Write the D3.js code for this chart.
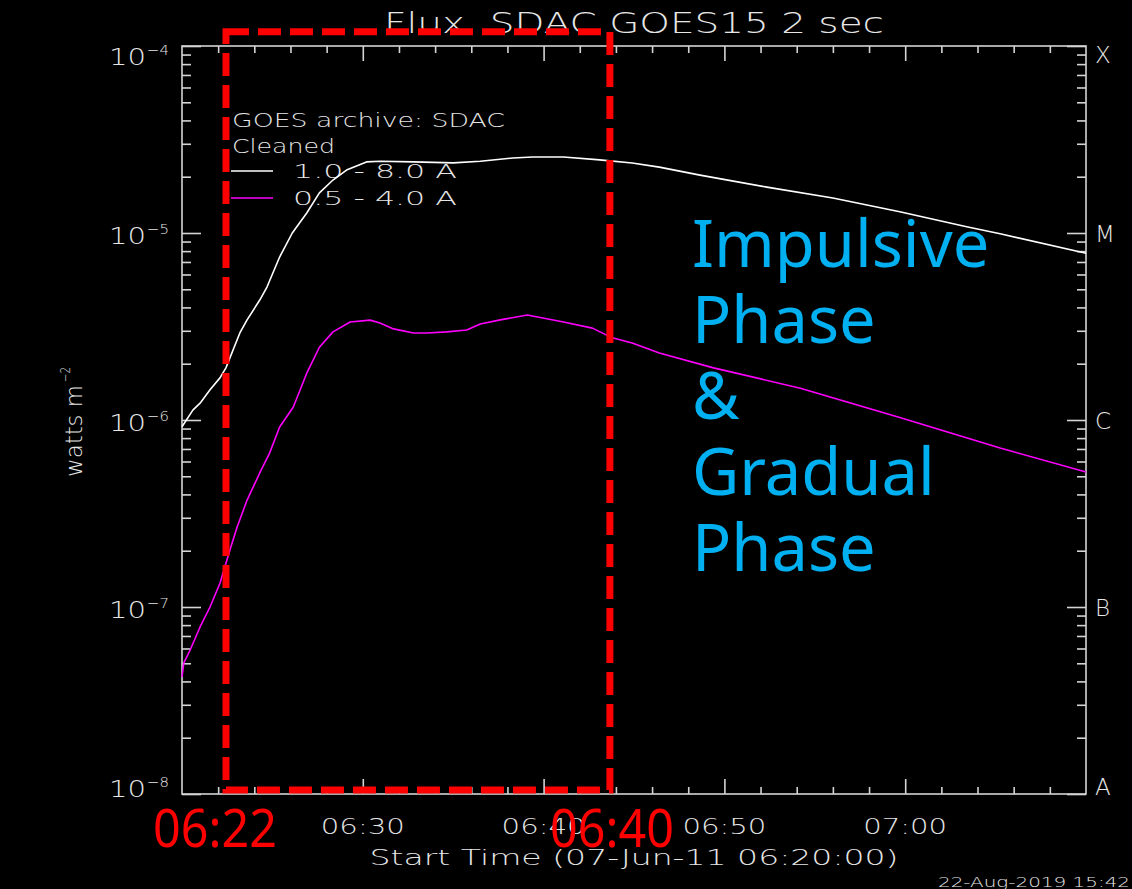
<!DOCTYPE html>
<html>
<head>
<meta charset="utf-8">
<script src="https://cdn.jsdelivr.net/npm/d3@7"></script>
<style>
  html, body { margin: 0; padding: 0; background: #000; }
  svg { display: block; }
</style>
</head>
<body>
<div id="chart"></div>
<script>
// GOES15 X-ray flux, 07-Jun-2011 flare, with phase annotations

// minutes after 06:20:00 and flux (W m^-2)
const longMin = [0, 0.6, 1.0, 1.55, 2.1, 2.43, 2.65, 3.2, 3.6, 4.3, 4.7, 5.4, 6.1, 6.9, 7.6, 8.35, 9.1,
  10.2, 10.95, 12.8, 15.0, 16.5, 18.3, 19.4, 21.1, 23.1, 24.9, 26.4, 28.65, 32.35, 36.0, 39.7, 43.4, 45.25, 50];
const longFlux = [9.2e-7, 1.13e-6, 1.23e-6, 1.45e-6, 1.68e-6, 1.9e-6, 2.15e-6, 2.92e-6, 3.43e-6, 4.38e-6,
  5.14e-6, 7.44e-6, 1.0e-5, 1.28e-5, 1.64e-5, 1.92e-5, 2.17e-5, 2.4e-5, 2.42e-5, 2.4e-5, 2.37e-5, 2.42e-5,
  2.52e-5, 2.55e-5, 2.55e-5, 2.46e-5, 2.37e-5, 2.25e-5, 2.04e-5, 1.76e-5, 1.54e-5, 1.3e-5, 1.08e-5, 9.9e-6, 7.8e-6];

const shortMin = [0, 0.1, 0.45, 1.0, 1.55, 2.1, 2.65, 3.05, 3.6, 4.3, 4.85, 5.4, 6.15, 6.9, 7.6, 8.35, 9.3,
  10.4, 10.95, 11.7, 12.8, 13.55, 14.65, 15.75, 16.5, 17.6, 19.1, 21.1, 22.7, 23.8, 24.9, 26.4, 29.4, 34.2,
  39.7, 45.25, 50];
const shortFlux = [4.23e-8, 5.02e-8, 5.89e-8, 7.82e-8, 1.0e-7, 1.34e-7, 2.02e-7, 2.68e-7, 3.73e-7, 5.21e-7,
  6.67e-7, 9.18e-7, 1.17e-6, 1.78e-6, 2.45e-6, 2.96e-6, 3.34e-6, 3.42e-6, 3.3e-6, 3.07e-6, 2.92e-6, 2.92e-6,
  2.96e-6, 3.03e-6, 3.26e-6, 3.43e-6, 3.64e-6, 3.34e-6, 3.1e-6, 2.75e-6, 2.58e-6, 2.28e-6, 1.9e-6, 1.48e-6,
  1.03e-6, 7.08e-7, 5.27e-7];

const startStr = "2011-06-07 06:20:00";
const endStr = "2011-06-07 07:10:00";
const decades = [1e-8, 1e-7, 1e-6, 1e-5, 1e-4];
const decadeExp = ["\u22128", "\u22127", "\u22126", "\u22125", "\u22124"];
const goesClass = ["A", "B", "C", "M", "X"];
const legendText = ["1.0 - 8.0 A", "0.5 - 4.0 A"];
const legendColor = ["#ffffff", "#ff00ff"];

// annotation box (time range and flux range) and labels
const boxTimes = ["2011-06-07 06:22:26", "2011-06-07 06:43:40"];
const boxFlux = [1.05e-8, 1.19e-4];
const boxLabels = ["06:22", "06:40"];
const phaseLines = ["Impulsive", "Phase", "&", "Gradual", "Phase"];

const width = 1132, height = 889;
const margin = { left: 182, right: 1086, top: 46, bottom: 794 };
const axisColor = "#d4d4d4";
const textColor = "#e6e6e6";
const vecFont = "'DejaVu Sans', 'Liberation Sans', sans-serif";

const parse = d3.timeParse("%Y-%m-%d %H:%M:%S");
const t0 = parse(startStr);
const toDate = m => new Date(t0.getTime() + m * 60000);

const svg = d3.select("#chart").append("svg")
  .attr("width", width)
  .attr("height", height)
  .style("background", "#000");

const x = d3.scaleTime().domain([t0, parse(endStr)]).range([margin.left, margin.right]);
const y = d3.scaleLog().domain([1e-8, 1e-4]).range([margin.bottom, margin.top]);

// labels at the two ends of the y range are pulled inside the frame
const endShift = (d, i) => (i === 0 ? -8 : i === decades.length - 1 ? 8 : 0);

// === frame ===
svg.append("rect")
  .attr("x", margin.left).attr("y", margin.top)
  .attr("width", margin.right - margin.left)
  .attr("height", margin.bottom - margin.top)
  .attr("fill", "none")
  .attr("stroke", axisColor)
  .attr("stroke-width", 1.6);

// === ticks ===
const majorT = x.ticks(d3.timeMinute.every(10)).filter(d => d > x.domain()[0] && d < x.domain()[1]);
const minorT = x.ticks(d3.timeMinute.every(2))
  .filter(d => d > x.domain()[0] && d < x.domain()[1] && d.getMinutes() % 10 !== 0);
const minorY = y.ticks().filter(v => !decades.some(d => Math.abs(v / d - 1) < 1e-6));

function tickAxis(axis, vals, size, tx, ty) {
  svg.append("g")
    .attr("transform", `translate(${tx},${ty})`)
    .call(axis.tickValues(vals).tickSize(size).tickFormat(""))
    .call(g => g.select(".domain").remove())
    .call(g => g.selectAll("line").attr("stroke", axisColor).attr("stroke-width", 1.6));
}
tickAxis(d3.axisBottom(x), majorT, -15, 0, margin.bottom);
tickAxis(d3.axisBottom(x), minorT, -7, 0, margin.bottom);
tickAxis(d3.axisTop(x), majorT, -15, 0, margin.top);
tickAxis(d3.axisTop(x), minorT, -7, 0, margin.top);
tickAxis(d3.axisLeft(y), decades, -19, margin.left, 0);
tickAxis(d3.axisLeft(y), minorY, -9, margin.left, 0);
tickAxis(d3.axisRight(y), decades, -19, margin.right, 0);
tickAxis(d3.axisRight(y), minorY, -9, margin.right, 0);

// === axis labels ===
const lab = svg.append("g").attr("fill", textColor).attr("font-family", vecFont).attr("font-weight", 200);

lab.selectAll(".tl").data(majorT).join("text")
  .attr("x", d => x(d)).attr("y", margin.bottom + 40)
  .attr("text-anchor", "middle").attr("font-size", 21)
  .attr("textLength", 84).attr("lengthAdjust", "spacingAndGlyphs")
  .text(d3.timeFormat("%H:%M"));

lab.selectAll(".dl").data(decades).join("text")
  .attr("x", margin.left - 36).attr("y", (d, i) => y(d) + 11 + endShift(d, i))
  .attr("text-anchor", "end").attr("font-size", 23)
  .attr("textLength", 37).attr("lengthAdjust", "spacingAndGlyphs")
  .text("10");
lab.selectAll(".de").data(decades).join("text")
  .attr("x", margin.left - 35).attr("y", (d, i) => y(d) + 1 + endShift(d, i))
  .attr("font-size", 14)
  .attr("textLength", 22).attr("lengthAdjust", "spacingAndGlyphs")
  .text((d, i) => decadeExp[i]);

lab.selectAll(".gc").data(decades).join("text")
  .attr("x", margin.right + 9).attr("y", (d, i) => y(d) + 9 + endShift(d, i))
  .attr("font-size", 23)
  .text((d, i) => goesClass[i]);

const yt = lab.append("g").attr("transform", `translate(82,477) rotate(-90)`);
yt.append("text").attr("font-size", 23)
  .attr("textLength", 92).attr("lengthAdjust", "spacingAndGlyphs")
  .text("watts m");
yt.append("text").attr("x", 95).attr("y", -12).attr("font-size", 14)
  .attr("textLength", 15).attr("lengthAdjust", "spacingAndGlyphs")
  .text("\u22122");

lab.append("text")
  .attr("x", (margin.left + margin.right) / 2).attr("y", 33)
  .attr("text-anchor", "middle").attr("font-size", 29)
  .style("white-space", "pre")
  .attr("textLength", 500).attr("lengthAdjust", "spacingAndGlyphs")
  .text("Flux  SDAC GOES15 2 sec");

lab.append("text")
  .attr("x", (margin.left + margin.right) / 2).attr("y", 865)
  .attr("text-anchor", "middle").attr("font-size", 21)
  .attr("textLength", 529).attr("lengthAdjust", "spacingAndGlyphs")
  .text("Start Time (07-Jun-11 06:20:00)");

lab.append("text")
  .attr("x", 1130).attr("y", 887)
  .attr("text-anchor", "end").attr("font-size", 14)
  .attr("textLength", 192).attr("lengthAdjust", "spacingAndGlyphs")
  .text("22-Aug-2019 15:42");

// === curves ===
const line = d3.line().x(d => x(toDate(d[0]))).y(d => y(d[1]));
const series = [
  d3.zip(longMin, longFlux),
  d3.zip(shortMin, shortFlux)
];
svg.append("g").selectAll("path").data(series).join("path")
  .attr("d", line)
  .attr("fill", "none")
  .attr("stroke", (d, i) => legendColor[i])
  .attr("stroke-width", 1.6)
  .attr("stroke-linejoin", "round");

// === legend ===
lab.append("text").attr("x", 232).attr("y", 127).attr("font-size", 20)
  .attr("textLength", 273).attr("lengthAdjust", "spacingAndGlyphs")
  .text("GOES archive: SDAC");
lab.append("text").attr("x", 232).attr("y", 153).attr("font-size", 20)
  .attr("textLength", 103).attr("lengthAdjust", "spacingAndGlyphs")
  .text("Cleaned");
legendText.forEach((t, i) => {
  const ly = 171 + i * 27;
  svg.append("line").attr("x1", 231).attr("x2", 273).attr("y1", ly).attr("y2", ly)
    .attr("stroke", legendColor[i]).attr("stroke-width", 1.6);
  lab.append("text").attr("x", 293).attr("y", ly + 7).attr("font-size", 20)
    .style("white-space", "pre")
    .attr("textLength", 164).attr("lengthAdjust", "spacingAndGlyphs")
    .text(t);
});

// === annotations ===
const bx = boxTimes.map(s => x(parse(s)));
const by = boxFlux.map(v => y(v));
svg.append("rect")
  .attr("x", bx[0]).attr("y", by[1])
  .attr("width", bx[1] - bx[0]).attr("height", by[0] - by[1])
  .attr("fill", "none")
  .attr("stroke", "#ff0000")
  .attr("stroke-width", 7)
  .attr("stroke-dasharray", "23,9");

svg.selectAll(".bl").data(boxLabels).join("text")
  .attr("x", (d, i) => bx[i] + (i === 0 ? -11 : 2))
  .attr("y", 847)
  .attr("text-anchor", "middle")
  .attr("font-family", "'Noto Sans', 'Open Sans', sans-serif")
  .attr("font-size", 52)
  .attr("fill", "#ff0000")
  .attr("textLength", 124).attr("lengthAdjust", "spacingAndGlyphs")
  .text(d => d);

svg.append("g").selectAll("text").data(phaseLines).join("text")
  .attr("x", 692)
  .attr("y", (d, i) => 267 + i * 76)
  .attr("font-family", "'Noto Sans', 'Open Sans', sans-serif")
  .attr("font-size", 65)
  .attr("fill", "#00b0f0")
  .text(d => d);
</script>
</body>
</html>
